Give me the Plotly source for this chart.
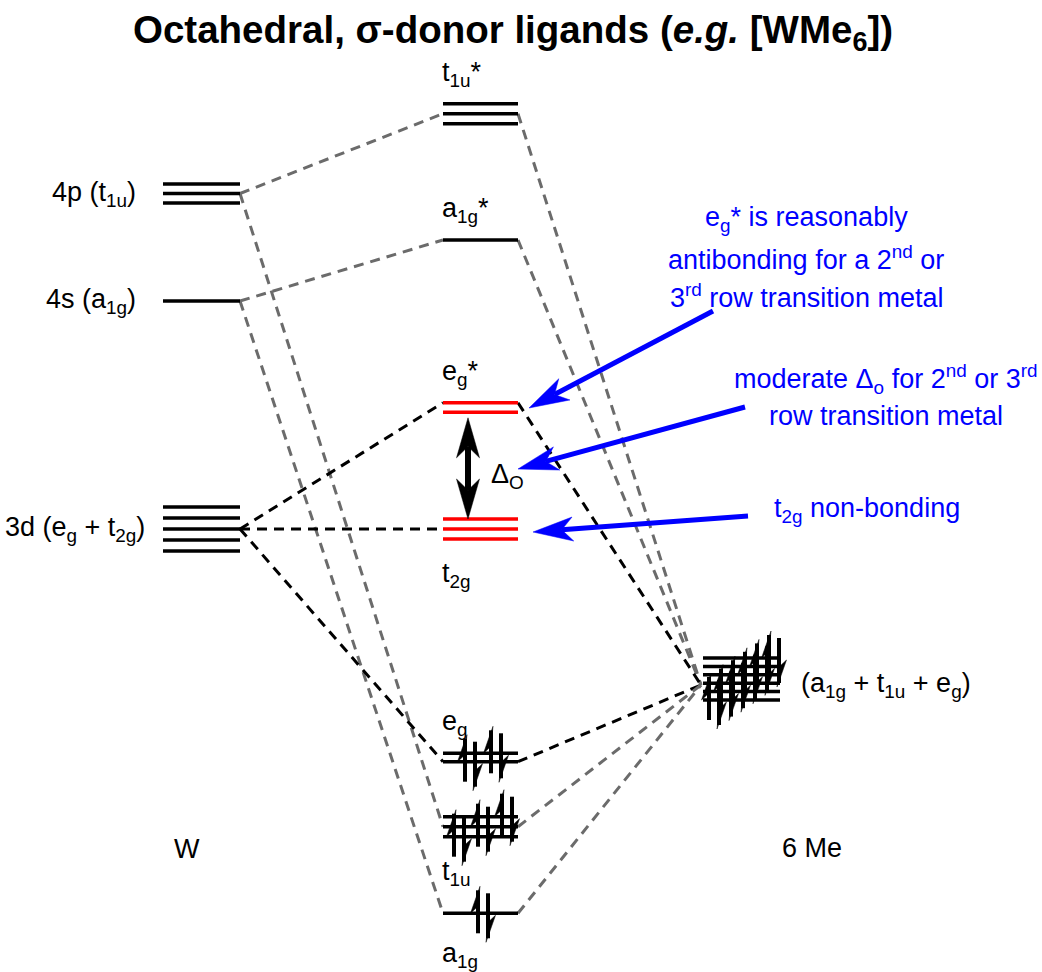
import math
import plotly.graph_objects as go

# ---------------- data ----------------
# energies are on an arbitrary vertical energy scale (higher = less stable)
metal_labels = ["4p (t<sub>1u</sub>)", "4s (a<sub>1g</sub>)", "3d (e<sub>g</sub> + t<sub>2g</sub>)"]
metal_energy = [778.5, 671.0, 443.0]
metal_degeneracy = [3, 1, 5]
metal_spacing = [9.5, 0.0, 11.0]

mo_labels = ["t<sub>1u</sub>*", "a<sub>1g</sub>*", "e<sub>g</sub>*", "t<sub>2g</sub>",
             "e<sub>g</sub>", "t<sub>1u</sub>", "a<sub>1g</sub>"]
mo_energy = [858.3, 732.0, 564.5, 443.0, 214.5, 145.3, 58.7]
mo_degeneracy = [3, 1, 2, 3, 2, 3, 1]
mo_spacing = [10.0, 0.0, 9.6, 10.0, 8.4, 10.0, 0.0]
mo_electrons = [0, 0, 0, 0, 4, 6, 2]
mo_colors = ["black", "black", "red", "red", "black", "black", "black"]
mo_label_side = [1, 1, 1, -1, 1, -1, -1]      # label above (+1) or below (-1)
mo_anchor = [0, 0, 1, 0, -1, 0, 0]             # which line the correlation lines join

ligand_label = "(a<sub>1g</sub> + t<sub>1u</sub> + e<sub>g</sub>)"
ligand_energy = 293.0
ligand_degeneracy = 6
ligand_spacing = 8.4
ligand_electrons = 12

metal_links = [(0, 0, "grey"), (0, 5, "grey"), (1, 1, "grey"), (1, 6, "grey"),
               (2, 2, "black"), (2, 3, "black"), (2, 4, "black")]
ligand_links = [(0, "grey"), (1, "grey"), (2, "black"), (4, "black"), (5, "grey"), (6, "grey")]

column_labels = ["W", "6 Me"]
title_text = "<b>Octahedral, σ-donor ligands (<i>e.g.</i> [WMe<sub>6</sub>])</b>"
delta_label = "Δ<sub>O</sub>"

note_lines = [
    ["e<sub>g</sub>* is reasonably", "antibonding for a 2<sup>nd</sup> or", "3<sup>rd</sup> row transition metal"],
    ["moderate Δ<sub>o</sub> for 2<sup>nd</sup> or 3<sup>rd</sup>", "row transition metal"],
    ["t<sub>2g</sub> non-bonding"],
]

# ---------------- layout constants ----------------
W, H = 1042, 972
METAL_X = (163, 240)
MO_X = (443, 518)
LIG_X = (703, 780)
LIG_ANCHOR = (701, 287)
FONT = "Liberation Sans, Arial, sans-serif"
BLUE = "#0000ff"
GREY = "#6b6b6b"
LW = 3.5
LABEL_SIZE = 27

metal_label_gap = [25, 25, 16]
mo_label_gap = [30, 30, 30, 36, 30, 36, 42]
note_pos = [(806, 753, 38.5), (886, 593, 37.0), (867, 462, 0)]
note_arrows = [((713, 661), (529, 564)), ((745, 565), (518, 503)), ((748, 456), (533, 440))]

fig = go.Figure()
shapes = []
annotations = []


def line_energies(e, deg, sp):
    return [e + (k - (deg - 1) / 2) * sp for k in range(deg)]


def anchor_energy(e, deg, sp, a):
    return e + a * (deg - 1) / 2 * sp


# ---- correlation (dashed) lines ----
def add_dash(x0, y0, x1, y1, colour):
    fig.add_trace(go.Scatter(x=[x0, x1], y=[y0, y1], mode="lines",
                             line=dict(color=GREY if colour == "grey" else "black",
                                       width=3, dash="10px,7px"),
                             hoverinfo="skip", showlegend=False))


for mi, oi, col in metal_links:
    ye = metal_energy[mi]
    yo = anchor_energy(mo_energy[oi], mo_degeneracy[oi], mo_spacing[oi], mo_anchor[oi])
    add_dash(METAL_X[1], ye, MO_X[0], yo, col)

for oi, col in ligand_links:
    yo = anchor_energy(mo_energy[oi], mo_degeneracy[oi], mo_spacing[oi], mo_anchor[oi])
    add_dash(MO_X[1], yo, LIG_ANCHOR[0], LIG_ANCHOR[1], col)


# ---- energy levels ----
def add_levels(xr, e, deg, sp, colour):
    xs, ys = [], []
    for y in line_energies(e, deg, sp):
        xs += [xr[0], xr[1], None]
        ys += [y, y, None]
    fig.add_trace(go.Scatter(x=xs, y=ys, mode="lines", line=dict(color=colour, width=LW),
                             hoverinfo="skip", showlegend=False))


for i in range(len(metal_energy)):
    add_levels(METAL_X, metal_energy[i], metal_degeneracy[i], metal_spacing[i], "black")
for i in range(len(mo_energy)):
    add_levels(MO_X, mo_energy[i], mo_degeneracy[i], mo_spacing[i], mo_colors[i])
add_levels(LIG_X, ligand_energy, ligand_degeneracy, ligand_spacing, "black")


# ---- electrons (half-headed arrows) ----
def electron(x, e, up):
    if up:
        top, bot = e + 27, e - 20
        shapes.append(dict(type="line", x0=x, x1=x, y0=bot, y1=top - 4,
                           line=dict(color="black", width=4)))
        shapes.append(dict(type="path", path=f"M{x+2},{top} L{x-7.5},{top-27} L{x},{top-20} Z",
                           fillcolor="black", line=dict(color="black", width=0.5)))
    else:
        top, bot = e + 20, e - 29
        shapes.append(dict(type="line", x0=x, x1=x, y0=top, y1=bot + 4,
                           line=dict(color="black", width=4)))
        shapes.append(dict(type="path", path=f"M{x-2},{bot} L{x+7.5},{bot+27} L{x},{bot+20} Z",
                           fillcolor="black", line=dict(color="black", width=0.5)))


def fill_level(xr, e, deg, sp, n_el):
    pairs = n_el // 2
    if pairs == 0:
        return
    ys = line_energies(e, deg, sp)
    step = min(26, 72 / pairs)
    cx = (xr[0] + xr[1]) / 2
    for j in range(pairs):
        c = cx + (j - (pairs - 1) / 2) * step
        electron(c - 2.5, ys[j], True)
        electron(c + 7.5, ys[j], False)


for i in range(len(mo_energy)):
    fill_level(MO_X, mo_energy[i], mo_degeneracy[i], mo_spacing[i], mo_electrons[i])
fill_level(LIG_X, ligand_energy, ligand_degeneracy, ligand_spacing, ligand_electrons)


# ---- solid arrows with notched heads ----
def solid_arrow(tail, tip, colour, width, L=40, Wd=24, both=False):
    tx, ty = tail
    px, py = tip
    d = math.hypot(px - tx, py - ty)
    ux, uy = (px - tx) / d, (py - ty) / d
    nx, ny = -uy, ux

    def head(hx, hy, ux, uy):
        bx, by = hx - L * ux, hy - L * uy
        mx, my = hx - 0.72 * L * ux, hy - 0.72 * L * uy
        shapes.append(dict(type="path",
                           path=(f"M{hx},{hy} L{bx + Wd/2*nx},{by + Wd/2*ny} "
                                 f"L{mx},{my} L{bx - Wd/2*nx},{by - Wd/2*ny} Z"),
                           fillcolor=colour, line=dict(color=colour, width=0.5)))
        return mx, my

    e1 = head(px, py, ux, uy)
    e0 = (tx, ty)
    if both:
        e0 = head(tx, ty, -ux, -uy)
    shapes.append(dict(type="line", x0=e0[0], y0=e0[1], x1=e1[0], y1=e1[1],
                       line=dict(color=colour, width=width)))


for tail, tip in note_arrows:
    solid_arrow(tail, tip, BLUE, 5)

# Delta_O double arrow between e_g* and t_2g
eg_star_bottom = line_energies(mo_energy[2], mo_degeneracy[2], mo_spacing[2])[0]
t2g_top = line_energies(mo_energy[3], mo_degeneracy[3], mo_spacing[3])[-1]
solid_arrow((468, eg_star_bottom - 5.5), (468, t2g_top), "black", 6, L=40, Wd=23, both=True)


# ---- text ----
def text(x, y, s, size=LABEL_SIZE, anchor="center", colour="black", yanchor="middle"):
    annotations.append(dict(x=x, y=y, xref="x", yref="y", text=s, showarrow=False,
                            xanchor=anchor, yanchor=yanchor,
                            font=dict(family=FONT, size=size, color=colour)))


text(513, 940, title_text, size=38.5)
for i, s in enumerate(metal_labels):
    text(METAL_X[0] - metal_label_gap[i], metal_energy[i], s, anchor="right")
for i, s in enumerate(mo_labels):
    lines = line_energies(mo_energy[i], mo_degeneracy[i], mo_spacing[i])
    if mo_label_side[i] > 0:
        text(MO_X[0] - 3, lines[-1] + mo_label_gap[i], s, anchor="left")
    else:
        text(MO_X[0] - 3, lines[0] - mo_label_gap[i], s, anchor="left")
text(LIG_X[1] + 19, LIG_ANCHOR[1], ligand_label, anchor="left")
text((METAL_X[0] + METAL_X[1]) / 2 - 15, 123, column_labels[0])
text((LIG_X[0] + LIG_X[1]) / 2 + 70, 124, column_labels[1])
text(489, 496, delta_label, anchor="left")

for (cx, y0, step), lines in zip(note_pos, note_lines):
    for k, s in enumerate(lines):
        text(cx, y0 - k * step, s, size=LABEL_SIZE, colour=BLUE)

fig.update_layout(
    width=W, height=H, autosize=False,
    margin=dict(l=0, r=0, t=0, b=0, pad=0),
    paper_bgcolor="white", plot_bgcolor="white",
    xaxis=dict(range=[0, W], visible=False, fixedrange=True),
    yaxis=dict(range=[0, H], visible=False, fixedrange=True),
    shapes=shapes, annotations=annotations, showlegend=False,
)

fig.write_html("out.html")
